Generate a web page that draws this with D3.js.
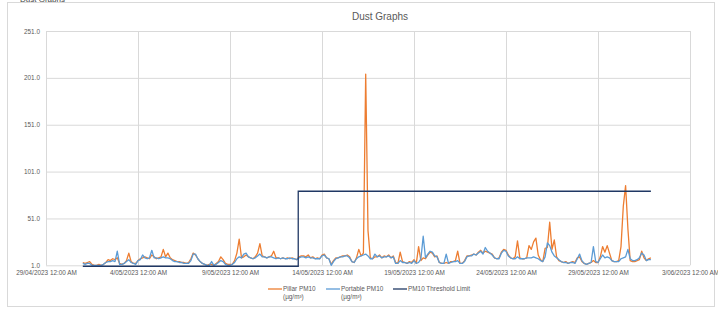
<!DOCTYPE html>
<html>
<head>
<meta charset="utf-8">
<script src="https://cdn.jsdelivr.net/npm/d3@7"></script>
<style>
  body { margin: 0; background: #fff; }
  svg text { font-family: "Liberation Sans", Arial, sans-serif; fill: #595959; }
</style>
</head>
<body>
<svg id="chart" width="718" height="309"></svg>
<script>
// readings every 3 hours from 1/05/2023 00:00
var startTime = new Date(2023, 4, 1, 0, 0);
var stepHours = 3;

var pillarPM10 = [
  4,3,4,5,2,1,1,2,   1,2,4,7,6,8,7,9,   3,2,3,6,14,5,3,3,   6,8,9,10,9,8,12,10,
  8,9,10,18,10,14,9,7,   6,5,5,4,4,3,4,8,   14,12,8,5,3,2,1,2,   2,1,3,5,10,7,3,2,
  2,2,6,14,29,9,10,12,   10,9,8,10,14,24,11,10,   9,10,11,16,9,9,8,9,   8,9,8,9,8,7,10,11,
  11,10,12,9,10,8,9,8,   12,13,9,8,2,6,9,9,   10,11,11,12,10,5,4,9,   18,11,14,205,38,9,8,10,
  10,12,9,11,10,12,9,11,   4,3,15,5,4,3,5,4,   7,3,21,6,9,8,12,15,   14,10,11,4,3,3,4,3,
  5,5,6,16,3,3,6,11,   11,12,13,12,15,17,14,16,   15,14,13,9,8,9,15,18,   17,12,9,8,10,27,9,8,
  8,9,22,18,26,30,12,7,   5,19,20,47,18,28,10,6,   5,4,5,3,4,5,4,9,   10,5,3,2,3,4,6,4,
  4,10,21,15,22,14,6,5,   5,6,21,64,86,40,6,5,   5,6,7,16,9,6,8,9
];

var portablePM10 = [
  3,2,3,3,1,1,1,1,   1,2,4,5,5,6,5,16,   2,2,3,5,7,4,3,2,   6,7,12,9,8,9,17,9,
  9,8,9,10,9,9,8,6,   5,5,4,4,3,3,3,6,   13,13,8,5,3,2,1,1,   5,1,2,4,6,5,2,1,
  1,2,4,8,10,9,13,14,   10,9,8,9,11,13,10,10,   9,10,10,9,8,9,8,9,   8,8,9,8,8,7,9,10,
  10,9,10,9,9,8,8,8,   11,12,9,8,1,5,8,9,   10,10,11,11,9,5,4,8,   10,11,12,13,11,8,8,13,
  10,11,9,10,10,11,9,10,   3,3,6,4,4,3,4,3,   6,3,4,8,32,9,13,16,   15,11,10,4,3,3,13,3,
  4,5,5,6,3,3,5,10,   11,11,13,12,14,16,13,20,   16,14,12,9,8,8,14,17,   16,11,9,8,8,10,8,8,
  8,9,9,9,10,9,8,6,   5,10,25,22,15,11,9,7,   5,4,4,3,4,4,3,8,   13,6,3,2,3,4,21,5,
  4,8,12,9,10,9,6,5,   5,5,8,9,10,18,8,6,   6,7,9,14,12,6,7,7
];

var thresholdTimes = [new Date(2023, 4, 1, 0), new Date(2023, 4, 12, 17), new Date(2023, 4, 31, 21)];
var thresholdValues = [0, 80, 80];

var xTicks = [new Date(2023,3,29), new Date(2023,4,4), new Date(2023,4,9), new Date(2023,4,14),
              new Date(2023,4,19), new Date(2023,4,24), new Date(2023,4,29), new Date(2023,5,3)];
var yTicks = [1, 51, 101, 151, 201, 251];

var seriesNames = ["Pillar PM10", "Portable PM10", "PM10 Threshold Limit"];
var seriesColors = ["#ED7D31", "#5B9BD5", "#203864"];

(function(){
  var svg = d3.select('#chart');
  var plotLeft = 46, plotRight = 690, plotTop = 31, plotBottom = 265.3;

  svg.append('text').attr('x',20).attr('y',1.5).style('font-size','8px').style('fill','#444').text('Dust Graphs');

  svg.append('rect').attr('x',7.5).attr('y',2.5).attr('width',707).attr('height',304)
    .attr('fill','#fff').attr('stroke','#d9d9d9');

  var x = d3.scaleTime().domain([xTicks[0], xTicks[xTicks.length-1]]).range([plotLeft, plotRight]);
  var y = d3.scaleLinear().domain([1, 251]).range([plotBottom, plotTop]);

  var fmt = d3.timeFormat('%-d/%m/%Y 12:00 AM');

  var gx = svg.append('g').attr('transform','translate(0,'+plotBottom+')')
    .call(d3.axisBottom(x).tickValues(xTicks).tickSize(-(plotBottom-plotTop)).tickFormat(fmt));
  gx.select('.domain').remove();
  gx.selectAll('line').attr('stroke','#d9d9d9');
  gx.selectAll('text').attr('dy','0.9em').attr('y',4).style('font-size','6.4px');

  var gy = svg.append('g').attr('transform','translate('+plotLeft+',0)')
    .call(d3.axisLeft(y).tickValues(yTicks).tickSize(-(plotRight-plotLeft)).tickPadding(6).tickFormat(d3.format('.1f')));
  gy.select('.domain').remove();
  gy.selectAll('line').attr('stroke','#d9d9d9');
  gy.selectAll('text').style('font-size','6.4px');

  svg.append('text').attr('x',380).attr('y',20).attr('text-anchor','middle')
    .style('font-size','10px').text('Dust Graphs');

  var timeAt = function(i){ return d3.timeHour.offset(startTime, i*stepHours); };
  var line = d3.line().x(function(d,i){ return x(timeAt(i)); }).y(function(d){ return y(d); });

  svg.append('path').datum(pillarPM10).attr('d',line)
    .attr('fill','none').attr('stroke',seriesColors[0]).attr('stroke-width',1.3).attr('stroke-linejoin','round');
  svg.append('path').datum(portablePM10).attr('d',line)
    .attr('fill','none').attr('stroke',seriesColors[1]).attr('stroke-width',1.3).attr('stroke-linejoin','round');

  var tline = d3.line().curve(d3.curveStepAfter)
    .x(function(d,i){ return x(thresholdTimes[i]); }).y(function(d){ return y(d); });
  svg.append('path').datum(thresholdValues).attr('d',tline)
    .attr('fill','none').attr('stroke',seriesColors[2]).attr('stroke-width',1.3);

  // legend
  var legendX = [268, 326, 393];
  var lg = svg.append('g');
  seriesNames.forEach(function(name,i){
    lg.append('line').attr('x1',legendX[i]).attr('x2',legendX[i]+14).attr('y1',289).attr('y2',289)
      .attr('stroke',seriesColors[i]).attr('stroke-width',1.3);
    lg.append('text').attr('x',legendX[i]+15).attr('y',291.3).style('font-size','6.4px').text(name);
    if (i < 2) {
      lg.append('text').attr('x',legendX[i]+15).attr('y',299).style('font-size','6.4px').text('(µg/m³)');
    }
  });
})();
</script>
</body>
</html>
